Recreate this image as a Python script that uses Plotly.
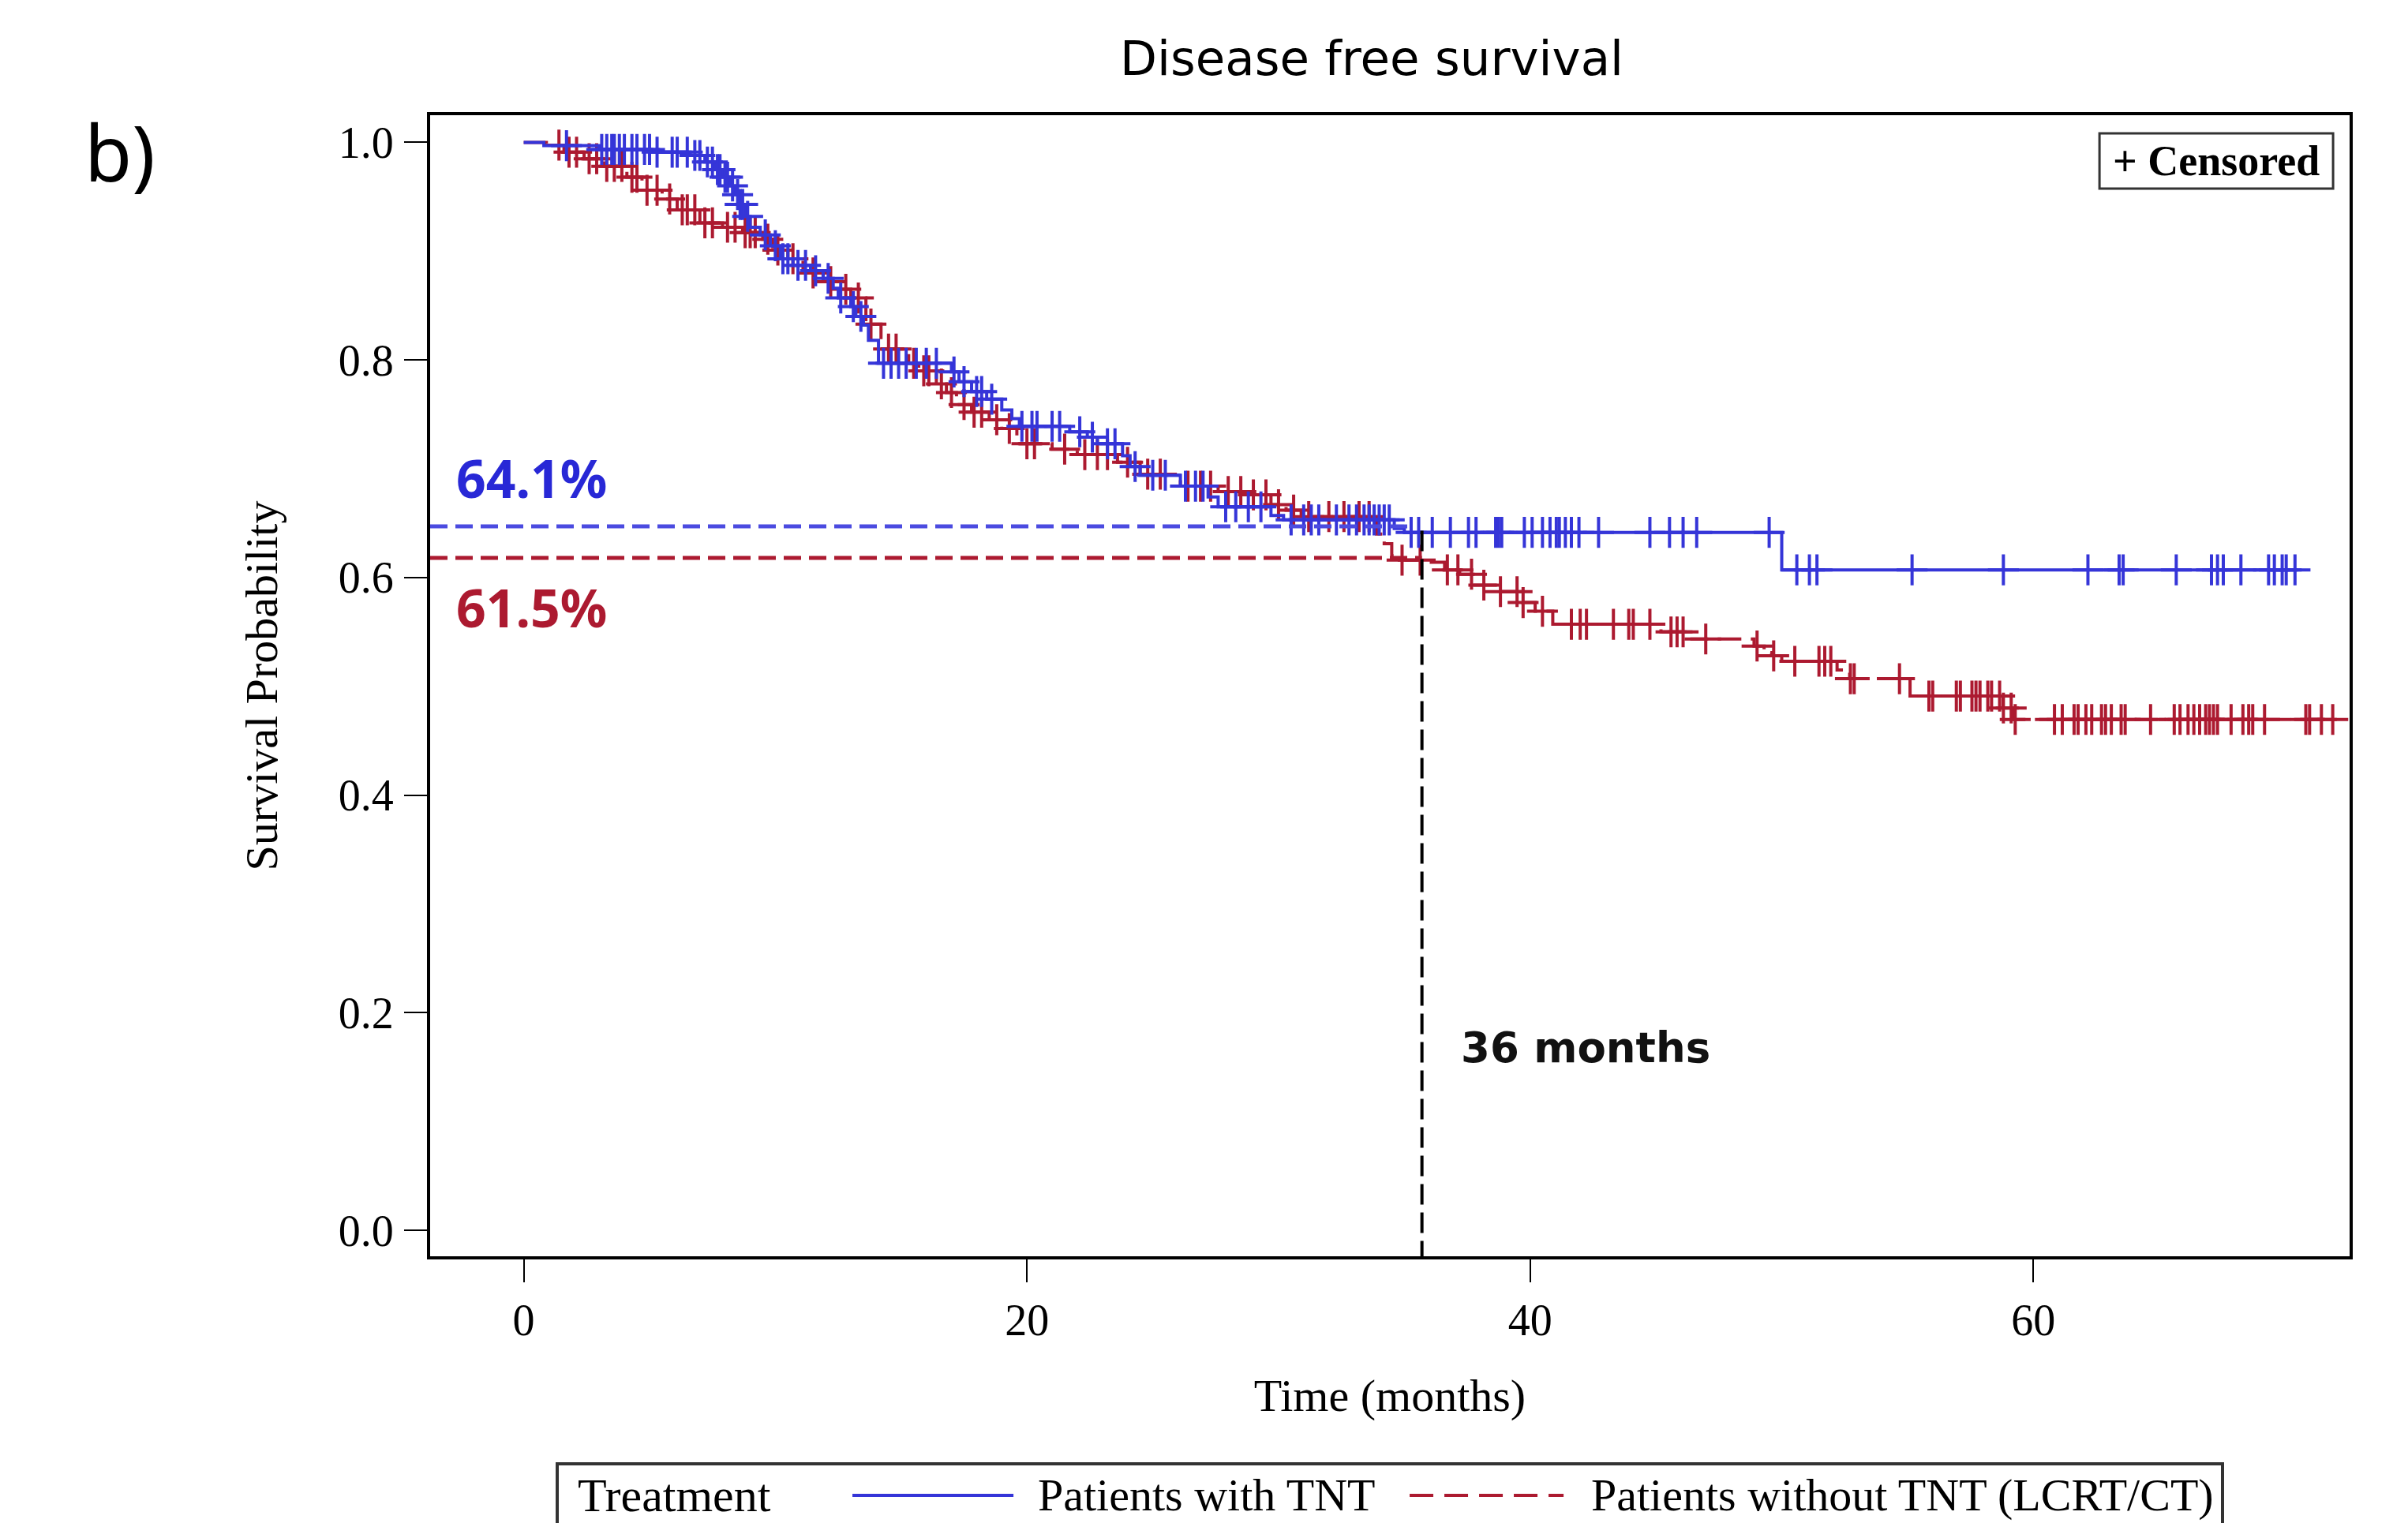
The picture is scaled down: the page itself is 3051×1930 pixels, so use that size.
import numpy as np
import plotly.graph_objects as go

# ---------------- data ----------------
# Patients with TNT (blue): event times (months) and survival after each event
tnt_event_times = [0.8, 3.0, 5.1, 6.6, 7.2, 7.6, 7.9, 8.2, 8.4, 8.6, 8.8, 9.0,
                   9.4, 9.8, 10.2, 10.7, 11.4, 11.9, 12.3, 12.5, 13.0, 13.2, 13.5,
                   13.7, 14.1, 17.0, 17.3, 17.8, 18.4, 19.0, 19.4, 19.7, 21.7, 22.4,
                   22.8, 23.8, 24.1, 24.5, 26.1, 27.2, 27.6, 29.7, 30.2, 34.6, 35.0, 50.0]
tnt_event_surv = [0.997, 0.9935, 0.991, 0.988, 0.982, 0.975, 0.968, 0.960, 0.952, 0.943,
                  0.932, 0.922, 0.915, 0.905, 0.893, 0.887, 0.882, 0.875, 0.866, 0.857,
                  0.849, 0.840, 0.832, 0.818, 0.797, 0.789, 0.780, 0.771, 0.764, 0.754,
                  0.746, 0.739, 0.734, 0.729, 0.723, 0.712, 0.702, 0.694, 0.684, 0.674,
                  0.665, 0.657, 0.653, 0.645, 0.6415, 0.607]
tnt_censor_times = [1.7, 3.1, 3.3, 3.5, 3.6, 3.8, 4.0, 4.3, 4.5, 4.8, 5.0, 5.3, 5.9, 6.1,
                    6.5, 6.8, 7.0, 7.3, 7.5, 7.7, 7.8, 8.0, 8.1, 8.3, 8.5, 8.6, 8.7, 8.9,
                    9.6, 10.0, 10.3, 10.5, 10.9, 11.2, 11.6, 12.1, 12.6, 13.1, 13.4, 14.3,
                    14.6, 14.9, 15.2, 15.6, 16.0, 16.4, 17.1, 17.5, 18.0, 18.2, 18.6, 19.8,
                    20.2, 20.4, 21.0, 21.3, 22.1, 22.6, 23.2, 23.5, 24.3, 25.0, 25.5, 26.3,
                    26.7, 27.0, 27.9, 28.3, 28.8, 29.3, 30.5, 31.0, 31.3, 31.6, 32.3, 32.8,
                    33.1, 33.4, 33.6, 33.8, 34.0, 34.2, 34.4, 35.27, 35.57, 36.11, 36.83,
                    37.55, 37.85, 38.63, 38.75, 38.87, 39.77, 40.08, 40.49, 40.79, 41.04,
                    41.16, 41.40, 41.64, 41.94, 42.72, 44.76, 45.54, 46.08, 46.62, 49.50,
                    50.6, 51.1, 51.4, 55.18, 58.81, 62.17, 63.41, 63.57, 65.68, 67.08,
                    67.32, 67.55, 68.25, 69.35, 69.58, 69.89, 70.05, 70.4]
tnt_end_time = 70.4

# Patients without TNT (LCRT/CT) (red)
no_event_times = [0.9, 1.6, 2.4, 3.2, 4.1, 4.7, 5.5, 6.1, 7.0, 7.9, 8.7, 9.5, 9.9, 10.5,
                  11.1, 11.9, 12.6, 13.0, 13.6, 14.2, 15.3, 15.7, 16.4, 16.8, 17.2, 17.8,
                  18.5, 19.0, 19.6, 21.0, 22.0, 23.6, 24.5, 26.1, 27.6, 28.8, 29.7, 30.3,
                  30.9, 33.9, 34.2, 34.5, 34.8, 36.0, 36.6, 37.2, 37.8, 38.75, 39.7, 40.2,
                  40.9, 45.2, 46.2, 48.9, 49.3, 49.6, 50.0, 52.2, 52.7, 55.1, 58.8, 59.2]
no_event_surv = [0.9975, 0.991, 0.985, 0.978, 0.968, 0.956, 0.948, 0.938, 0.926, 0.922,
                 0.917, 0.911, 0.901, 0.893, 0.880, 0.872, 0.865, 0.857, 0.833, 0.810,
                 0.797, 0.790, 0.778, 0.770, 0.759, 0.752, 0.745, 0.737, 0.723, 0.718,
                 0.713, 0.706, 0.695, 0.684, 0.679, 0.676, 0.667, 0.662, 0.656, 0.640,
                 0.631, 0.620, 0.616, 0.614, 0.607, 0.603, 0.593, 0.587, 0.577, 0.569,
                 0.557, 0.550, 0.5435, 0.537, 0.531, 0.528, 0.523, 0.515, 0.507, 0.491,
                 0.480, 0.4695]
no_censor_times = [1.4, 1.8, 2.1, 2.6, 2.9, 3.3, 3.6, 3.9, 4.3, 4.5, 4.9, 5.3, 5.8, 6.3,
                   6.5, 6.8, 7.2, 7.5, 8.1, 8.4, 8.8, 9.0, 9.2, 9.7, 10.1, 10.7, 11.5, 12.2,
                   12.8, 13.3, 13.8, 14.5, 14.8, 15.5, 15.9, 16.1, 16.6, 17.0, 17.5, 17.9,
                   18.2, 18.8, 19.3, 20.0, 20.3, 21.5, 22.3, 22.8, 23.2, 24.0, 24.8, 25.3,
                   26.4, 26.9, 27.3, 28.0, 28.5, 29.0, 29.5, 30.0, 30.6, 31.2, 32.0, 32.6,
                   33.2, 33.6, 34.91, 35.63, 36.71, 37.13, 37.67, 38.16, 38.82, 39.48,
                   39.72, 40.49, 41.64, 41.99, 42.24, 43.31, 43.92, 44.1, 44.76, 45.6,
                   45.84, 46.08, 46.98, 49.02, 49.68, 50.52, 51.48, 51.71, 51.95, 52.73,
                   52.88, 54.68, 55.85, 56.0, 56.94, 57.1, 57.56, 57.72, 57.88, 58.19,
                   58.34, 58.66, 58.81, 59.12, 59.28, 60.84, 61.15, 61.62, 61.78, 62.09,
                   62.32, 62.71, 62.87, 63.1, 63.49, 63.65, 64.66, 65.6, 65.83, 66.15,
                   66.38, 66.61, 66.85, 67.0, 67.16, 67.32, 67.86, 68.33, 68.56, 68.72,
                   69.19, 70.83, 70.98, 71.45, 71.9]
no_end_time = 71.9

# milestone annotation
milestone_month = 35.7
milestone_label = "36 months"
tnt_ref_level = 0.647
no_ref_level = 0.618
tnt_pct_label = "64.1%"
no_pct_label = "61.5%"

x_tick_vals = [0, 20, 40, 60]
y_tick_vals = [0.0, 0.2, 0.4, 0.6, 0.8, 1.0]

series_names = ["Patients with TNT", "Patients without TNT (LCRT/CT)"]

# ---------------- styling ----------------
BLUE = "#3535d8"
RED = "#ac1a30"
BLUE_TXT = "#2828d6"
BLUE_REF = "#4b4be0"
SERIF = "Liberation Serif, Times New Roman, serif"
SANS = "DejaVu Sans, Verdana, sans-serif"
XR = [-3.72, 72.57]
YR = [-0.024, 1.025]
OFF = 8  # page body margin compensation (px)


def step_xy(times, surv, end):
    x = [0.0] + list(times) + [end]
    y = [1.0] + list(surv) + [surv[-1]]
    return x, y


def surv_at(times, surv, t):
    idx = np.searchsorted(np.array(times), np.array(t), side="right")
    lev = np.concatenate([[1.0], np.array(surv)])
    return lev[idx]


fig = go.Figure()

tx, ty = step_xy(tnt_event_times, tnt_event_surv, tnt_end_time)
nx, ny = step_xy(no_event_times, no_event_surv, no_end_time)

fig.add_trace(go.Scatter(x=nx, y=ny, mode="lines", line_shape="hv", name=series_names[1],
                         line=dict(color=RED, width=4, dash="30px,12px")))
fig.add_trace(go.Scatter(x=no_censor_times, y=surv_at(no_event_times, no_event_surv, no_censor_times),
                         mode="markers", name=series_names[1] + " (censored)",
                         marker=dict(symbol="cross-thin", size=28, color=RED,
                                     line=dict(color=RED, width=4))))
fig.add_trace(go.Scatter(x=tx, y=ty, mode="lines", line_shape="hv", name=series_names[0],
                         line=dict(color=BLUE, width=4)))
fig.add_trace(go.Scatter(x=tnt_censor_times, y=surv_at(tnt_event_times, tnt_event_surv, tnt_censor_times),
                         mode="markers", name=series_names[0] + " (censored)",
                         marker=dict(symbol="cross-thin", size=28, color=BLUE,
                                     line=dict(color=BLUE, width=4))))

# reference lines (dashed)
fig.add_shape(type="line", xref="x", yref="y", x0=XR[0], x1=milestone_month - 0.4,
              y0=tnt_ref_level, y1=tnt_ref_level, line=dict(color=BLUE_REF, width=5, dash="22px,10px"))
fig.add_shape(type="line", xref="x", yref="y", x0=XR[0], x1=milestone_month,
              y0=no_ref_level, y1=no_ref_level, line=dict(color=RED, width=5, dash="22px,10px"))
fig.add_shape(type="line", xref="x", yref="y", x0=milestone_month, x1=milestone_month,
              y0=tnt_ref_level - 0.004, y1=YR[0], line=dict(color="black", width=4, dash="26px,10px"))

fig.add_annotation(x=-2.74, y=0.692, xref="x", yref="y", text=tnt_pct_label, showarrow=False,
                   xanchor="left", yanchor="middle",
                   font=dict(family="Noto Sans, sans-serif", size=66, color=BLUE_TXT, weight="bold"))
fig.add_annotation(x=-2.74, y=0.573, xref="x", yref="y", text=no_pct_label, showarrow=False,
                   xanchor="left", yanchor="middle",
                   font=dict(family="Noto Sans, sans-serif", size=66, color=RED, weight="bold"))
fig.add_annotation(x=37.18, y=0.168, xref="x", yref="y", text=milestone_label, showarrow=False,
                   xanchor="left", yanchor="middle",
                   font=dict(family=SANS, size=53, color="#111111", weight="bold"))

# panel label
fig.add_annotation(x=-0.1616, y=0.968, xref="paper", yref="paper", text="b)", showarrow=False,
                   xanchor="center", yanchor="middle",
                   font=dict(family="Liberation Sans Narrow, Noto Sans, sans-serif", size=98, color="black"))

# censored legend box
fig.add_shape(type="rect", xref="paper", yref="paper", x0=0.8697, x1=0.9914, y0=0.9357, y1=0.9841,
              line=dict(color="#333333", width=3), fillcolor="white")
fig.add_annotation(x=0.9305, y=0.9599, xref="paper", yref="paper", text="+ Censored", showarrow=False,
                   xanchor="center", yanchor="middle",
                   font=dict(family=SERIF, size=54, color="black", weight="bold"))

# bottom legend box
LY = -0.2095
fig.add_shape(type="rect", xref="paper", yref="paper", x0=0.0662, x1=0.9338, y0=-0.27, y1=-0.1819,
              line=dict(color="#333333", width=4), fillcolor="white")
fig.add_annotation(x=0.0761, y=LY, xref="paper", yref="paper", text="Treatment", showarrow=False,
                   xanchor="left", yanchor="middle", font=dict(family=SERIF, size=60, color="black"))
fig.add_shape(type="line", xref="paper", yref="paper", x0=0.2200, x1=0.3039, y0=LY, y1=LY,
              line=dict(color=BLUE, width=4))
fig.add_annotation(x=0.3158, y=LY, xref="paper", yref="paper", text=series_names[0], showarrow=False,
                   xanchor="left", yanchor="middle", font=dict(family=SERIF, size=58, color="black"))
fig.add_shape(type="line", xref="paper", yref="paper", x0=0.5103, x1=0.5905, y0=LY, y1=LY,
              line=dict(color=RED, width=4, dash="30px,14px"))
fig.add_annotation(x=0.6040, y=LY, xref="paper", yref="paper", text=series_names[1], showarrow=False,
                   xanchor="left", yanchor="middle", font=dict(family=SERIF, size=58, color="black"))

fig.update_layout(
    width=3051, height=1930,
    margin=dict(l=545 - OFF, r=74 + OFF, t=146 - OFF, b=338 + OFF, autoexpand=False),
    paper_bgcolor="white", plot_bgcolor="white",
    showlegend=False,
    title=dict(text="Disease free survival", x=(1738 - OFF) / 3051, xref="container", xanchor="center",
               y=1 - (74 - OFF) / 1930, yref="container", yanchor="middle",
               font=dict(family=SANS, size=61, color="black")),
)
fig.update_xaxes(range=XR, tickvals=x_tick_vals, ticks="outside", ticklen=29, tickwidth=2,
                 tickcolor="black", showline=True, linewidth=4, linecolor="black", mirror=True,
                 showgrid=False, zeroline=False, ticklabelstandoff=0,
                 tickfont=dict(family=SERIF, size=56, color="black"),
                 title=dict(text="Time (months)", standoff=45,
                            font=dict(family=SERIF, size=58, color="black")))
fig.update_yaxes(range=YR, tickvals=y_tick_vals, tickformat=".1f", ticks="outside", ticklen=29,
                 tickwidth=2, tickcolor="black", showline=True, linewidth=4, linecolor="black",
                 mirror=True, showgrid=False, zeroline=False, ticklabelstandoff=2,
                 tickfont=dict(family=SERIF, size=56, color="black"),
                 title=dict(text="Survival Probability", standoff=59,
                            font=dict(family=SERIF, size=58, color="black")))

fig.write_html("out.html")
